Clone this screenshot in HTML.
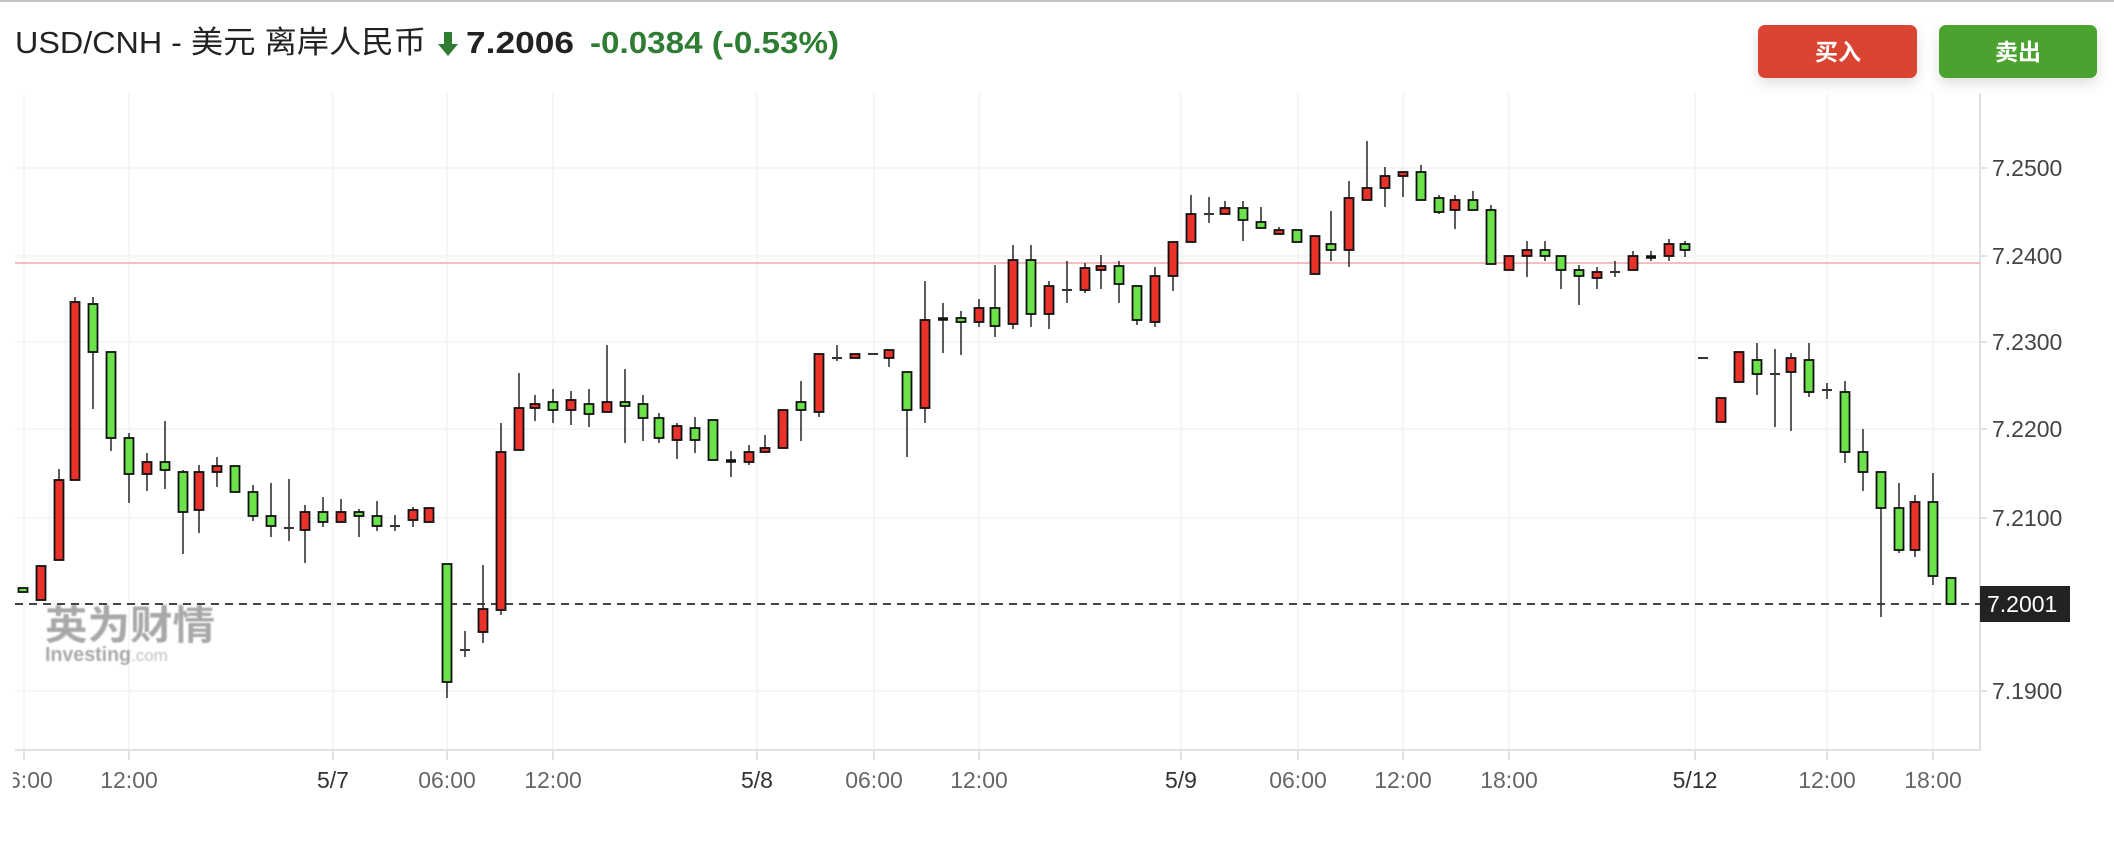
<!DOCTYPE html>
<html><head><meta charset="utf-8"><style>
html,body{margin:0;padding:0;background:#fff;}
svg{display:block;}
text{font-family:"Liberation Sans","Noto Sans CJK SC",sans-serif;}
</style></head><body>
<svg width="2114" height="844" viewBox="0 0 2114 844" xmlns="http://www.w3.org/2000/svg">
<defs>
<clipPath id="cl"><rect x="13" y="0" width="2101" height="844"/></clipPath>
<filter id="sh" x="-20%" y="-30%" width="140%" height="190%"><feDropShadow dx="0" dy="6" stdDeviation="6" flood-color="#000" flood-opacity="0.12"/></filter>
<filter id="bl"><feGaussianBlur stdDeviation="0.9"/></filter>
</defs>
<rect x="0" y="0" width="2114" height="2" fill="#c4c4c4"/>
<text x="15" y="53" font-size="31" fill="#222" textLength="411" lengthAdjust="spacingAndGlyphs">USD/CNH - 美元 离岸人民币</text>
<path d="M444 32 h8 v12 h6 l-10 12 l-10 -12 h6z" fill="#2e7d32"/>
<text x="466" y="53" font-size="31" font-weight="bold" fill="#222" textLength="108" lengthAdjust="spacingAndGlyphs">7.2006</text>
<text x="590" y="53" font-size="31" font-weight="bold" fill="#2e7d32" textLength="249" lengthAdjust="spacingAndGlyphs">-0.0384 (-0.53%)</text>
<rect x="1758" y="25" width="159" height="53" rx="7" fill="#d94431" filter="url(#sh)"/>
<text x="1838" y="60" font-size="23" font-weight="bold" fill="#fff" text-anchor="middle">买入</text>
<rect x="1939" y="25" width="158" height="53" rx="7" fill="#4ca22f" filter="url(#sh)"/>
<text x="2018" y="60" font-size="23" font-weight="bold" fill="#fff" text-anchor="middle">卖出</text>
<g stroke="#f3f3f3" stroke-width="1.5">
<line x1="15" y1="168" x2="1980" y2="168"/><line x1="15" y1="256" x2="1980" y2="256"/>
<line x1="15" y1="342" x2="1980" y2="342"/><line x1="15" y1="429" x2="1980" y2="429"/>
<line x1="15" y1="518" x2="1980" y2="518"/><line x1="15" y1="604" x2="1980" y2="604"/>
<line x1="15" y1="691" x2="1980" y2="691"/>
<line x1="24" y1="93" x2="24" y2="750"/><line x1="129" y1="93" x2="129" y2="750"/>
<line x1="333" y1="93" x2="333" y2="750"/><line x1="447" y1="93" x2="447" y2="750"/>
<line x1="553" y1="93" x2="553" y2="750"/><line x1="757" y1="93" x2="757" y2="750"/>
<line x1="874" y1="93" x2="874" y2="750"/><line x1="979" y1="93" x2="979" y2="750"/>
<line x1="1181" y1="93" x2="1181" y2="750"/><line x1="1298" y1="93" x2="1298" y2="750"/>
<line x1="1403" y1="93" x2="1403" y2="750"/><line x1="1509" y1="93" x2="1509" y2="750"/>
<line x1="1695" y1="93" x2="1695" y2="750"/><line x1="1827" y1="93" x2="1827" y2="750"/>
<line x1="1933" y1="93" x2="1933" y2="750"/>
</g>
<line x1="15" y1="750" x2="1980" y2="750" stroke="#dfe1e6" stroke-width="2"/>
<line x1="1980" y1="93" x2="1980" y2="751" stroke="#dfe1e6" stroke-width="2"/>
<g stroke="#dfe1e6" stroke-width="2">
<line x1="24" y1="750" x2="24" y2="760"/><line x1="129" y1="750" x2="129" y2="760"/>
<line x1="333" y1="750" x2="333" y2="760"/><line x1="447" y1="750" x2="447" y2="760"/>
<line x1="553" y1="750" x2="553" y2="760"/><line x1="757" y1="750" x2="757" y2="760"/>
<line x1="874" y1="750" x2="874" y2="760"/><line x1="979" y1="750" x2="979" y2="760"/>
<line x1="1181" y1="750" x2="1181" y2="760"/><line x1="1298" y1="750" x2="1298" y2="760"/>
<line x1="1403" y1="750" x2="1403" y2="760"/><line x1="1509" y1="750" x2="1509" y2="760"/>
<line x1="1695" y1="750" x2="1695" y2="760"/><line x1="1827" y1="750" x2="1827" y2="760"/>
<line x1="1933" y1="750" x2="1933" y2="760"/>
<line x1="1980" y1="168" x2="1987" y2="168"/><line x1="1980" y1="256" x2="1987" y2="256"/>
<line x1="1980" y1="342" x2="1987" y2="342"/><line x1="1980" y1="429" x2="1987" y2="429"/>
<line x1="1980" y1="518" x2="1987" y2="518"/><line x1="1980" y1="691" x2="1987" y2="691"/>
</g>
<g font-size="23" fill="#666" text-anchor="middle" clip-path="url(#cl)">
<text x="24" y="788">06:00</text><text x="129" y="788">12:00</text>
<text x="333" y="788" fill="#333">5/7</text><text x="447" y="788">06:00</text>
<text x="553" y="788">12:00</text><text x="757" y="788" fill="#333">5/8</text>
<text x="874" y="788">06:00</text><text x="979" y="788">12:00</text>
<text x="1181" y="788" fill="#333">5/9</text><text x="1298" y="788">06:00</text>
<text x="1403" y="788">12:00</text><text x="1509" y="788">18:00</text>
<text x="1695" y="788" fill="#333">5/12</text><text x="1827" y="788">12:00</text>
<text x="1933" y="788">18:00</text>
</g>
<g font-size="23" fill="#444">
<text x="1992" y="176">7.2500</text><text x="1992" y="264">7.2400</text>
<text x="1992" y="350">7.2300</text><text x="1992" y="437">7.2200</text>
<text x="1992" y="526">7.2100</text><text x="1992" y="699">7.1900</text>
</g>
<g opacity="0.6" filter="url(#bl)">
<text x="45" y="639" font-size="40" font-weight="bold" fill="#707070" textLength="170" lengthAdjust="spacingAndGlyphs">英为财情</text>
<text x="45" y="661" font-size="20" font-weight="bold" fill="#707070" textLength="86" lengthAdjust="spacingAndGlyphs">Investing</text>
<text x="131" y="661" font-size="17" fill="#999">.com</text>
</g>
<line x1="15" y1="263" x2="1980" y2="263" stroke="#f2a9a9" stroke-width="1.5"/>
<line x1="15" y1="604" x2="1980" y2="604" stroke="#444" stroke-width="2" stroke-dasharray="8,6"/>
<g stroke="#333" stroke-width="1.6">
<line x1="59" y1="469" x2="59" y2="480"/><line x1="75" y1="297" x2="75" y2="302"/>
<line x1="93" y1="297" x2="93" y2="409"/><line x1="111" y1="352" x2="111" y2="451"/>
<line x1="129" y1="433" x2="129" y2="503"/><line x1="147" y1="453" x2="147" y2="491"/>
<line x1="165" y1="421" x2="165" y2="489"/><line x1="183" y1="470" x2="183" y2="554"/>
<line x1="199" y1="465" x2="199" y2="533"/><line x1="217" y1="457" x2="217" y2="487"/>
<line x1="253" y1="485" x2="253" y2="521"/><line x1="271" y1="483" x2="271" y2="537"/>
<line x1="289" y1="479" x2="289" y2="541"/><line x1="305" y1="505" x2="305" y2="563"/>
<line x1="323" y1="497" x2="323" y2="527"/><line x1="341" y1="499" x2="341" y2="522"/>
<line x1="359" y1="509" x2="359" y2="537"/><line x1="377" y1="501" x2="377" y2="531"/>
<line x1="395" y1="515" x2="395" y2="531"/><line x1="413" y1="507" x2="413" y2="527"/>
<line x1="447" y1="564" x2="447" y2="698"/><line x1="465" y1="631" x2="465" y2="657"/>
<line x1="483" y1="565" x2="483" y2="643"/><line x1="501" y1="423" x2="501" y2="615"/>
<line x1="519" y1="373" x2="519" y2="450"/><line x1="535" y1="395" x2="535" y2="421"/>
<line x1="553" y1="389" x2="553" y2="423"/><line x1="571" y1="391" x2="571" y2="425"/>
<line x1="589" y1="389" x2="589" y2="427"/><line x1="607" y1="345" x2="607" y2="412"/>
<line x1="625" y1="369" x2="625" y2="443"/><line x1="643" y1="395" x2="643" y2="441"/>
<line x1="659" y1="413" x2="659" y2="443"/><line x1="677" y1="423" x2="677" y2="459"/>
<line x1="695" y1="417" x2="695" y2="453"/><line x1="731" y1="451" x2="731" y2="477"/>
<line x1="749" y1="445" x2="749" y2="465"/><line x1="765" y1="435" x2="765" y2="452"/>
<line x1="801" y1="381" x2="801" y2="441"/><line x1="819" y1="354" x2="819" y2="417"/>
<line x1="837" y1="345" x2="837" y2="361"/><line x1="889" y1="350" x2="889" y2="367"/>
<line x1="907" y1="372" x2="907" y2="457"/><line x1="925" y1="281" x2="925" y2="423"/>
<line x1="943" y1="303" x2="943" y2="353"/><line x1="961" y1="311" x2="961" y2="355"/>
<line x1="979" y1="299" x2="979" y2="327"/><line x1="995" y1="265" x2="995" y2="337"/>
<line x1="1013" y1="245" x2="1013" y2="329"/><line x1="1031" y1="245" x2="1031" y2="327"/>
<line x1="1049" y1="281" x2="1049" y2="329"/><line x1="1067" y1="261" x2="1067" y2="303"/>
<line x1="1085" y1="263" x2="1085" y2="293"/><line x1="1101" y1="255" x2="1101" y2="289"/>
<line x1="1119" y1="261" x2="1119" y2="303"/><line x1="1137" y1="286" x2="1137" y2="325"/>
<line x1="1155" y1="267" x2="1155" y2="327"/><line x1="1173" y1="242" x2="1173" y2="291"/>
<line x1="1191" y1="195" x2="1191" y2="214"/><line x1="1209" y1="197" x2="1209" y2="223"/>
<line x1="1225" y1="201" x2="1225" y2="208"/><line x1="1243" y1="201" x2="1243" y2="241"/>
<line x1="1261" y1="207" x2="1261" y2="222"/><line x1="1279" y1="227" x2="1279" y2="230"/>
<line x1="1331" y1="211" x2="1331" y2="261"/><line x1="1349" y1="181" x2="1349" y2="267"/>
<line x1="1367" y1="141" x2="1367" y2="188"/><line x1="1385" y1="167" x2="1385" y2="207"/>
<line x1="1403" y1="172" x2="1403" y2="197"/><line x1="1421" y1="165" x2="1421" y2="172"/>
<line x1="1439" y1="195" x2="1439" y2="214"/><line x1="1455" y1="195" x2="1455" y2="229"/>
<line x1="1473" y1="191" x2="1473" y2="200"/><line x1="1491" y1="205" x2="1491" y2="210"/>
<line x1="1527" y1="241" x2="1527" y2="277"/><line x1="1545" y1="241" x2="1545" y2="261"/>
<line x1="1561" y1="256" x2="1561" y2="289"/><line x1="1579" y1="265" x2="1579" y2="305"/>
<line x1="1597" y1="267" x2="1597" y2="289"/><line x1="1615" y1="261" x2="1615" y2="277"/>
<line x1="1633" y1="251" x2="1633" y2="256"/><line x1="1651" y1="251" x2="1651" y2="261"/>
<line x1="1669" y1="239" x2="1669" y2="261"/><line x1="1685" y1="241" x2="1685" y2="257"/>
<line x1="1757" y1="343" x2="1757" y2="395"/><line x1="1775" y1="349" x2="1775" y2="427"/>
<line x1="1791" y1="353" x2="1791" y2="431"/><line x1="1809" y1="343" x2="1809" y2="397"/>
<line x1="1827" y1="383" x2="1827" y2="399"/><line x1="1845" y1="381" x2="1845" y2="463"/>
<line x1="1863" y1="429" x2="1863" y2="491"/><line x1="1881" y1="472" x2="1881" y2="617"/>
<line x1="1899" y1="483" x2="1899" y2="553"/><line x1="1915" y1="495" x2="1915" y2="557"/>
<line x1="1933" y1="473" x2="1933" y2="585"/>
</g>
<g stroke="#333" stroke-width="2">
<line x1="284" y1="528" x2="294" y2="528"/><line x1="390" y1="526" x2="400" y2="526"/>
<line x1="460" y1="650" x2="470" y2="650"/><line x1="832" y1="358" x2="842" y2="358"/>
<line x1="868" y1="354" x2="878" y2="354"/><line x1="1062" y1="290" x2="1072" y2="290"/>
<line x1="1204" y1="214" x2="1214" y2="214"/><line x1="1610" y1="272" x2="1620" y2="272"/>
<line x1="1698" y1="358" x2="1708" y2="358"/><line x1="1770" y1="374" x2="1780" y2="374"/>
<line x1="1822" y1="390" x2="1832" y2="390"/>
</g>
<g stroke="#111" stroke-width="3.5">
<line x1="726" y1="461" x2="736" y2="461"/><line x1="938" y1="319" x2="948" y2="319"/>
<line x1="1646" y1="257" x2="1656" y2="257"/>
</g>
<g stroke="#111" stroke-width="1.8">
<g fill="#e8322a">
<rect x="36.5" y="566" width="9" height="34"/><rect x="54.5" y="480" width="9" height="80"/>
<rect x="70.5" y="302" width="9" height="178"/><rect x="142.5" y="462" width="9" height="12"/>
<rect x="194.5" y="472" width="9" height="38"/><rect x="212.5" y="466" width="9" height="6"/>
<rect x="300.5" y="512" width="9" height="18"/><rect x="336.5" y="512" width="9" height="10"/>
<rect x="408.5" y="510" width="9" height="10"/><rect x="424.5" y="508" width="9" height="14"/>
<rect x="478.5" y="609" width="9" height="23"/><rect x="496.5" y="452" width="9" height="158"/>
<rect x="514.5" y="408" width="9" height="42"/><rect x="530.5" y="404" width="9" height="4"/>
<rect x="566.5" y="400" width="9" height="10"/><rect x="602.5" y="402" width="9" height="10"/>
<rect x="672.5" y="426" width="9" height="14"/><rect x="744.5" y="452" width="9" height="10"/>
<rect x="760.5" y="448" width="9" height="4"/><rect x="778.5" y="410" width="9" height="38"/>
<rect x="814.5" y="354" width="9" height="58"/><rect x="850.5" y="354" width="9" height="4"/>
<rect x="884.5" y="350" width="9" height="8"/><rect x="920.5" y="320" width="9" height="88"/>
<rect x="974.5" y="308" width="9" height="14"/><rect x="1008.5" y="260" width="9" height="64"/>
<rect x="1044.5" y="286" width="9" height="28"/><rect x="1080.5" y="268" width="9" height="22"/>
<rect x="1096.5" y="266" width="9" height="4"/><rect x="1150.5" y="276" width="9" height="46"/>
<rect x="1168.5" y="242" width="9" height="34"/><rect x="1186.5" y="214" width="9" height="28"/>
<rect x="1220.5" y="208" width="9" height="6"/><rect x="1274.5" y="230" width="9" height="4"/>
<rect x="1310.5" y="236" width="9" height="38"/><rect x="1344.5" y="198" width="9" height="52"/>
<rect x="1362.5" y="188" width="9" height="12"/><rect x="1380.5" y="176" width="9" height="12"/>
<rect x="1398.5" y="172" width="9" height="4"/><rect x="1450.5" y="200" width="9" height="10"/>
<rect x="1504.5" y="256" width="9" height="14"/><rect x="1522.5" y="250" width="9" height="6"/>
<rect x="1592.5" y="272" width="9" height="6"/><rect x="1628.5" y="256" width="9" height="14"/>
<rect x="1664.5" y="244" width="9" height="12"/><rect x="1716.5" y="398" width="9" height="24"/>
<rect x="1734.5" y="352" width="9" height="30"/><rect x="1786.5" y="358" width="9" height="14"/>
<rect x="1910.5" y="502" width="9" height="48"/>
</g>
<g fill="#6be24a">
<rect x="18.5" y="588" width="9" height="4"/><rect x="88.5" y="304" width="9" height="48"/>
<rect x="106.5" y="352" width="9" height="86"/><rect x="124.5" y="438" width="9" height="36"/>
<rect x="160.5" y="462" width="9" height="8"/><rect x="178.5" y="472" width="9" height="40"/>
<rect x="230.5" y="466" width="9" height="26"/><rect x="248.5" y="492" width="9" height="24"/>
<rect x="266.5" y="516" width="9" height="10"/><rect x="318.5" y="512" width="9" height="10"/>
<rect x="354.5" y="512" width="9" height="4"/><rect x="372.5" y="516" width="9" height="10"/>
<rect x="442.5" y="564" width="9" height="118"/><rect x="548.5" y="402" width="9" height="8"/>
<rect x="584.5" y="404" width="9" height="10"/><rect x="620.5" y="402" width="9" height="4"/>
<rect x="638.5" y="404" width="9" height="14"/><rect x="654.5" y="418" width="9" height="20"/>
<rect x="690.5" y="428" width="9" height="12"/><rect x="708.5" y="420" width="9" height="40"/>
<rect x="796.5" y="402" width="9" height="8"/><rect x="902.5" y="372" width="9" height="38"/>
<rect x="956.5" y="318" width="9" height="4"/><rect x="990.5" y="308" width="9" height="18"/>
<rect x="1026.5" y="260" width="9" height="54"/><rect x="1114.5" y="266" width="9" height="18"/>
<rect x="1132.5" y="286" width="9" height="34"/><rect x="1238.5" y="208" width="9" height="12"/>
<rect x="1256.5" y="222" width="9" height="6"/><rect x="1292.5" y="230" width="9" height="12"/>
<rect x="1326.5" y="244" width="9" height="6"/><rect x="1416.5" y="172" width="9" height="28"/>
<rect x="1434.5" y="198" width="9" height="14"/><rect x="1468.5" y="200" width="9" height="10"/>
<rect x="1486.5" y="210" width="9" height="54"/><rect x="1540.5" y="250" width="9" height="6"/>
<rect x="1556.5" y="256" width="9" height="14"/><rect x="1574.5" y="270" width="9" height="6"/>
<rect x="1680.5" y="244" width="9" height="6"/><rect x="1752.5" y="360" width="9" height="14"/>
<rect x="1804.5" y="360" width="9" height="32"/><rect x="1840.5" y="392" width="9" height="60"/>
<rect x="1858.5" y="452" width="9" height="20"/><rect x="1876.5" y="472" width="9" height="36"/>
<rect x="1894.5" y="508" width="9" height="42"/><rect x="1928.5" y="502" width="9" height="74"/>
<rect x="1946.5" y="578" width="9" height="26"/>
</g>
</g>
<rect x="1980" y="586" width="90" height="36" fill="#222"/>
<text x="1987" y="612" font-size="23" fill="#fff">7.2001</text>
</svg>
</body></html>
